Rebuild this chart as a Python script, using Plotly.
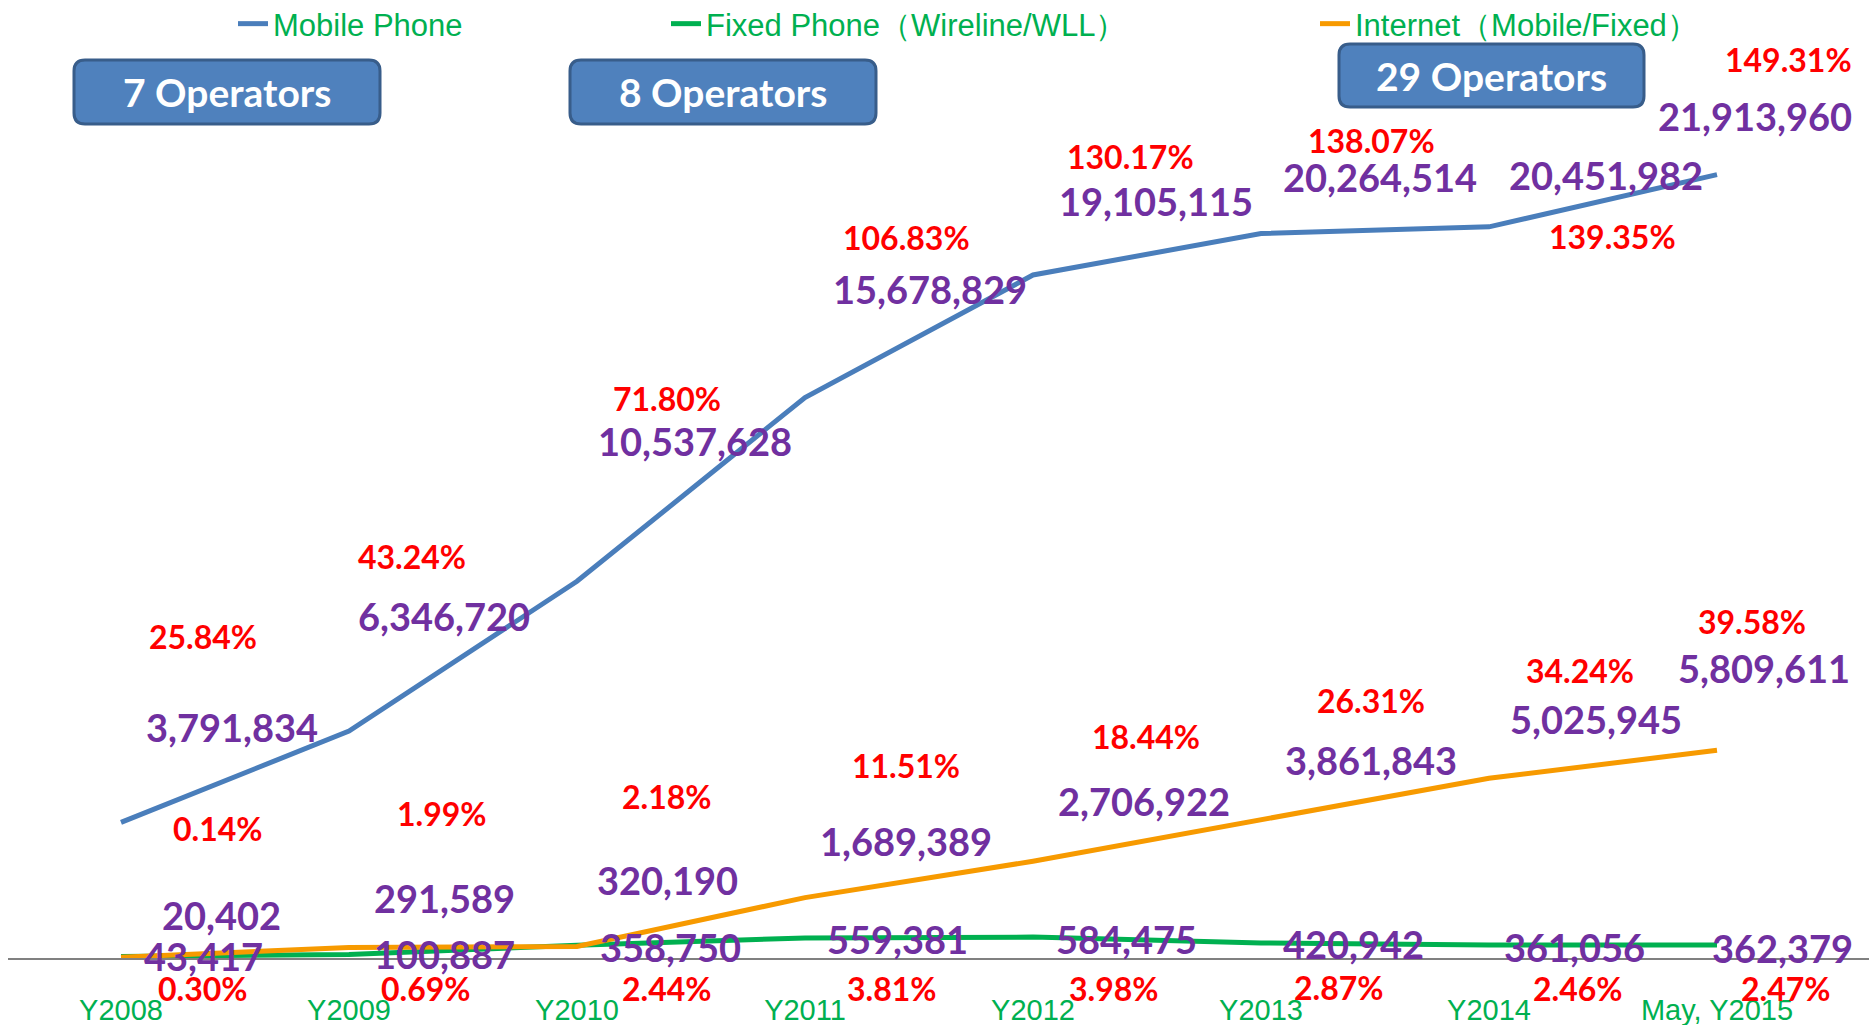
import plotly.graph_objects as go

# ---------------- data ----------------
categories = ["Y2008", "Y2009", "Y2010", "Y2011", "Y2012", "Y2013", "Y2014", "May, Y2015"]
mobile = [3791834, 6346720, 10537628, 15678829, 19105115, 20264514, 20451982, 21913960]
fixed = [43417, 100887, 358750, 559381, 584475, 420942, 361056, 362379]
internet = [20402, 291589, 320190, 1689389, 2706922, 3861843, 5025945, 5809611]
mobile_pct = [25.84, 43.24, 71.80, 106.83, 130.17, 138.07, 139.35, 149.31]
fixed_pct = [0.30, 0.69, 2.44, 3.81, 3.98, 2.87, 2.46, 2.47]
internet_pct = [0.14, 1.99, 2.18, 11.51, 18.44, 26.31, 34.24, 39.58]
series_names = ["Mobile Phone", "Fixed Phone（Wireline/WLL）", "Internet（Mobile/Fixed）"]
operator_labels = ["7 Operators", "8 Operators", "29 Operators"]

# ---------------- layout / style ----------------
W, H = 1869, 1025
ML, MR, MT, MB = 8, 0, 0, 67
PW, PH = W - ML - MR, H - MT - MB

def px(x):
    return (x - ML) / PW

def py(y):
    return 1 - (y - MT) / PH

BLUE, GREEN, ORANGE = "#4A7EBB", "#00B050", "#F79A00"
PURPLE, RED = "#7030A0", "#FF0000"
NUM_FONT = "Lato, Roboto, sans-serif"
TXT_FONT = "Liberation Sans, Arial, sans-serif"

# label offsets (dx px right, dy px up) relative to each point
mob_val_off = [(111, 95), (95, 115), (118, 140), (125, 108), (123, 74), (119, 57), (117, 52), (38, 59)]
mob_pct_off = [(82, 186), (63, 175), (90, 183), (101, 160), (97, 118), (110, 93), (123, -10), (71, 115)]
int_val_off = [(100, 42), (95, 50), (90, 67), (101, 57), (111, 60), (110, 60), (107, 59), (47, 82)]
int_pct_off = [(97, 129), (93, 134), (90, 150), (101, 132), (113, 125), (110, 119), (91, 108), (35, 129)]
fix_val_off = [(82, 0), (95, 0), (93, -2), (92, -1), (93, -2), (92, -1), (85, -2), (65, -3)]
fix_pct_off = [(82, -32), (77, -34), (90, -43), (87, -50), (81, -51), (78, -45), (89, -43), (69, -43)]

fig = go.Figure()
fig.add_trace(go.Scatter(x=categories, y=mobile, mode="lines", name=series_names[0],
                         line=dict(color=BLUE, width=5), legend="legend"))
fig.add_trace(go.Scatter(x=categories, y=fixed, mode="lines", name=series_names[1],
                         line=dict(color=GREEN, width=5), legend="legend2"))
fig.add_trace(go.Scatter(x=categories, y=internet, mode="lines", name=series_names[2],
                         line=dict(color=ORANGE, width=5), legend="legend3"))

anns = []

def add_labels(vals, texts, offs, color, size):
    for c, v, t, (dx, dy) in zip(categories, vals, texts, offs):
        anns.append(dict(x=c, y=v, xref="x", yref="y", text=t, showarrow=False,
                         xanchor="center", yanchor="middle", xshift=dx, yshift=dy,
                         font=dict(family=NUM_FONT, size=size, color=color, weight="bold")))

add_labels(mobile, [f"{v:,}" for v in mobile], mob_val_off, PURPLE, 38)
add_labels(mobile, [f"{v:.2f}%" for v in mobile_pct], mob_pct_off, RED, 32)
add_labels(internet, [f"{v:,}" for v in internet], int_val_off, PURPLE, 38)
add_labels(internet, [f"{v:.2f}%" for v in internet_pct], int_pct_off, RED, 32)
add_labels(fixed, [f"{v:,}" for v in fixed], fix_val_off, PURPLE, 38)
add_labels(fixed, [f"{v:.2f}%" for v in fixed_pct], fix_pct_off, RED, 32)

# operator boxes (pixel rectangles: x0, x1, y0, y1)
boxes = [(74, 380, 60, 124), (570, 876, 60, 124), (1339, 1644, 44, 107)]
shapes = []
r = 11
for (x0, x1, y0, y1), lab in zip(boxes, operator_labels):
    X0, X1 = px(x0), px(x1)
    YT, YB = py(y0), py(y1)
    rx, ry = r / PW, r / PH
    path = (f"M {X0+rx},{YB} L {X1-rx},{YB} Q {X1},{YB} {X1},{YB+ry} "
            f"L {X1},{YT-ry} Q {X1},{YT} {X1-rx},{YT} L {X0+rx},{YT} "
            f"Q {X0},{YT} {X0},{YT-ry} L {X0},{YB+ry} Q {X0},{YB} {X0+rx},{YB} Z")
    shapes.append(dict(type="path", path=path, xref="paper", yref="paper",
                       fillcolor="#4F81BD", line=dict(color="#385D8A", width=3), layer="above"))
    anns.append(dict(x=px((x0 + x1) / 2), y=py((y0 + y1) / 2), xref="paper", yref="paper",
                     text=lab, showarrow=False, xanchor="center", yanchor="middle",
                     font=dict(family=NUM_FONT, size=39, color="white", weight="bold")))

PX_PER_UNIT_Y = 35.75 / 1e6
X0_PX, DX_PX = 121, 228.0
ymax = PH / PX_PER_UNIT_Y / 1e0
xmin = -(X0_PX - ML) / DX_PX
xmax = xmin + PW / DX_PX

legend_common = dict(orientation="h", xanchor="left", yanchor="middle", bgcolor="rgba(0,0,0,0)",
                     xref="container", yref="container",
                     font=dict(family=TXT_FONT, size=31, color=GREEN),
                     itemwidth=30)

def cy(y):
    return 1 - y / H

fig.update_layout(
    width=W, height=H,
    margin=dict(l=ML, r=MR, t=MT, b=MB, autoexpand=False),
    paper_bgcolor="white", plot_bgcolor="white",
    showlegend=True,
    legend=dict(legend_common, x=233 / W, y=cy(24)),
    legend2=dict(legend_common, x=666 / W, y=cy(24)),
    legend3=dict(legend_common, x=1315 / W, y=cy(24)),
    xaxis=dict(type="category", range=[xmin, xmax], showgrid=False, zeroline=False,
               showline=True, linecolor="#808080", linewidth=2,
               ticks="outside", ticklen=25, tickcolor="rgba(0,0,0,0)",
               tickfont=dict(family=TXT_FONT, size=29, color=GREEN)),
    yaxis=dict(range=[0, ymax], visible=False, showgrid=False, zeroline=False),
    annotations=anns,
    shapes=shapes,
)

fig.write_html("out.html", config={"displayModeBar": False},
               post_script="document.body.style.margin='0';document.body.style.padding='0';")
